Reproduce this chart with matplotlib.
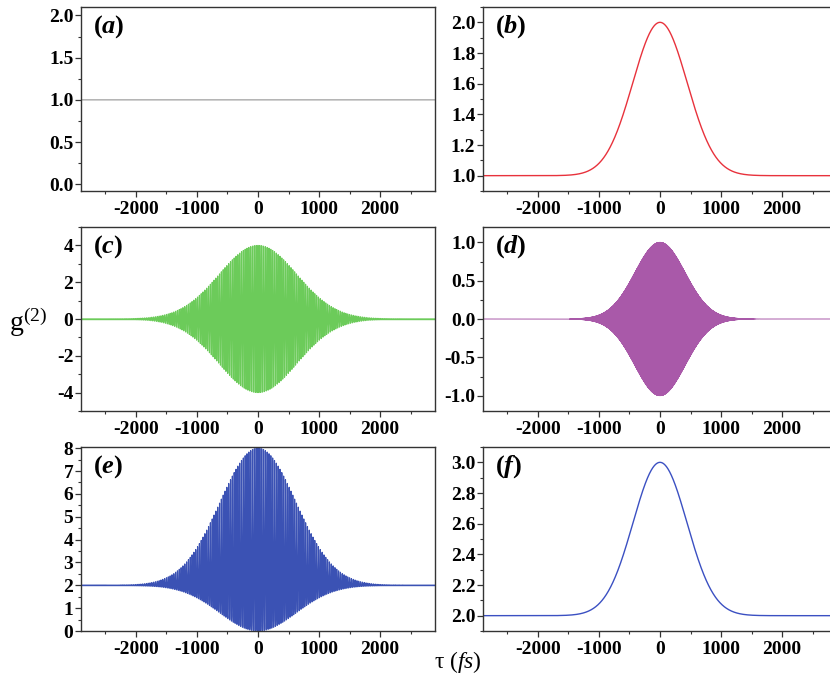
import numpy as np
import matplotlib
matplotlib.use("Agg")
import matplotlib.pyplot as plt
from matplotlib.ticker import MultipleLocator

# values (fs and g2 levels)
tau_lim = (-2900, 2900)
x_major = [-2000, -1000, 0, 1000, 2000]

a_level = 1.0

b_base, b_peak, b_width = 1.0, 2.0, 630.0

c_amp, c_width, c_period = 4.0, 900.0, 30.0

d_amp, d_width, d_period = 1.0, 580.0, 4.0

e_base, e_width, e_period = 2.0, 880.0, 30.0
e_cos_amp, e_cos2_amp = 4.0, 2.0

f_base, f_peak, f_width = 2.0, 3.0, 625.0

panel_labels = ["a", "b", "c", "d", "e", "f"]
panel_ylims = [(-0.08, 2.1), (0.9, 2.1), (-5, 5), (-1.2, 1.2), (0, 8.05), (1.9, 3.1)]
panel_yticks = [(0.5, 0.25), (0.2, 0.1), (2, 1), (0.5, 0.25), (1, 0.5), (0.2, 0.1)]
panel_colors = ["#a9a9a9", "#e8323c", "#6ccb5a", "#a959a9", "#3b52b4", "#3b50c2"]
panel_lw = [1.0, 1.0, 0.85, 0.7, 0.85, 1.0]


plt.rcParams["font.family"] = "Liberation Serif"
plt.rcParams["font.weight"] = "bold"
plt.rcParams["axes.unicode_minus"] = False
plt.rcParams["mathtext.fontset"] = "custom"
plt.rcParams["mathtext.rm"] = "Liberation Serif:weight=normal"
plt.rcParams["mathtext.it"] = "Liberation Serif:style=italic:weight=normal"
plt.rcParams["mathtext.bf"] = "Liberation Serif:weight=bold"
plt.rcParams["mathtext.bfit"] = "Liberation Serif:style=italic:weight=bold"


def gauss(t, w):
    return np.exp(-(t / w) ** 2)


tau = np.linspace(tau_lim[0], tau_lim[1], 3001)
tau_fast = np.linspace(tau_lim[0], tau_lim[1], 80001)

curves = [
    (tau, np.full_like(tau, a_level)),
    (tau, b_base + (b_peak - b_base) * gauss(tau, b_width)),
    (tau_fast, c_amp * gauss(tau_fast, c_width) * np.cos(2 * np.pi * tau_fast / c_period)),
    (tau_fast, d_amp * gauss(tau_fast, d_width) * np.cos(2 * np.pi * tau_fast / d_period)),
    (tau_fast, e_base + gauss(tau_fast, e_width)
     * (e_cos_amp * np.cos(2 * np.pi * tau_fast / e_period)
        + e_cos2_amp * np.cos(2 * np.pi * tau_fast / e_period) ** 2)),
    (tau, f_base + (f_peak - f_base) * gauss(tau, f_width)),
]

W, H = 830, 680
fig = plt.figure(figsize=(W / 100, H / 100), dpi=100)

col_left = [81, 483]
ax_w = 354
row_top = [7, 227, 447]
ax_h = 184

for k in range(6):
    r, c = divmod(k, 2)
    ax = fig.add_axes([col_left[c] / W, 1 - (row_top[r] + ax_h) / H, ax_w / W, ax_h / H])
    x, y = curves[k]
    ax.plot(x, y, color=panel_colors[k], lw=panel_lw[k])
    if k in (2, 4):
        # flat baseline drawn through the oscillation, as in the original
        ax.axhline(curves[k][1][0], color=panel_colors[k], lw=1.0)
    ax.set_xlim(*tau_lim)
    ax.set_ylim(*panel_ylims[k])
    ax.set_xticks(x_major)
    ax.xaxis.set_minor_locator(MultipleLocator(500))
    ax.yaxis.set_major_locator(MultipleLocator(panel_yticks[k][0]))
    ax.yaxis.set_minor_locator(MultipleLocator(panel_yticks[k][1]))
    if k in (2, 4):
        ax.yaxis.set_major_formatter(plt.FormatStrFormatter("%d"))
    else:
        ax.yaxis.set_major_formatter(plt.FormatStrFormatter("%.1f"))
    ax.tick_params(which="major", direction="out", length=4, width=0.9,
                   labelsize=14, color="#333333")
    ax.tick_params(which="minor", direction="out", length=2.5, width=0.8, color="#333333")
    ax.tick_params(axis="y", pad=1.5)
    ax.tick_params(axis="x", pad=3)
    for s in ax.spines.values():
        s.set_linewidth(1.0)
        s.set_color("#333333")
    ax.text(0.035, 0.895, r"$\mathbf{(}\mathbfit{%s}\mathbf{)}$" % panel_labels[k],
            transform=ax.transAxes, fontsize=19, va="center", ha="left")

fig.text(9 / W, 1 - 322 / H, r"$\mathrm{g}^{(2)}$", fontsize=20, va="center", ha="left")
fig.text(434 / W, 1 - 662 / H, r"$\mathrm{\tau\ (}\mathit{fs}\mathrm{)}$",
         fontsize=17, va="center", ha="left")

fig.savefig("out.png", dpi=100)
